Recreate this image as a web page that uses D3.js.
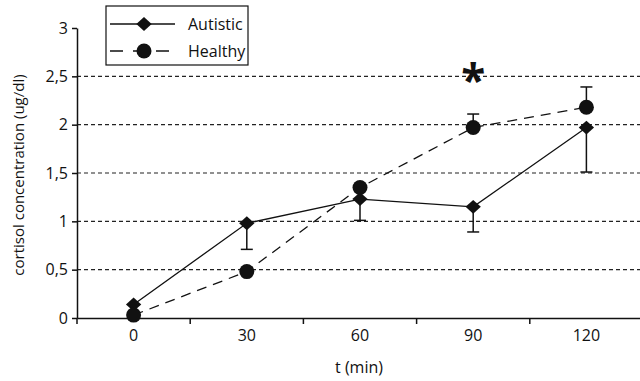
<!DOCTYPE html>
<html>
<head>
<meta charset="utf-8">
<script src="https://cdn.jsdelivr.net/npm/d3@7"></script>
<style>
  body { margin: 0; background: #fff; }
  text { font-family: "Open Sans", sans-serif; fill: #111; }
</style>
</head>
<body>
<svg id="chart" width="640" height="381"></svg>
<script>
const times = ["0", "30", "60", "90", "120"];
const autistic = [0.14, 0.98, 1.23, 1.15, 1.97];
const autisticLow = [null, 0.71, 1.01, 0.89, 1.51];
const healthy = [0.03, 0.48, 1.35, 1.97, 2.18];
const healthyHigh = [null, null, null, 2.11, 2.39];
const yTicks = [0, 0.5, 1, 1.5, 2, 2.5, 3];
const seriesNames = ["Autistic", "Healthy"];

const margin = {top: 28, right: -3, bottom: 63, left: 77};
const width = 640 - margin.left - margin.right;
const height = 381 - margin.top - margin.bottom;

const svg = d3.select("#chart");
const g = svg.append("g").attr("transform", "translate(" + margin.left + "," + margin.top + ")");

const x = d3.scaleBand().domain(times).range([0, width]);
const y = d3.scaleLinear().domain([0, 3]).range([height, 0]);
const cx = d => x(d) + x.bandwidth() / 2;
const fmt = v => String(v).replace(".", ",");

// grid
g.selectAll(".grid").data(yTicks.filter(v => v > 0 && v < 3)).enter().append("line")
    .attr("x1", 0).attr("x2", width)
    .attr("y1", d => y(d)).attr("y2", d => y(d))
    .attr("stroke", "#222").attr("stroke-width", 1.2)
    .attr("stroke-dasharray", "4,3");

// y axis
const yAxis = g.append("g").call(d3.axisLeft(y).tickValues(yTicks).tickFormat(fmt).tickSize(5).tickSizeOuter(0));
yAxis.select(".domain").attr("stroke", "#111").attr("stroke-width", 1.5);
yAxis.selectAll(".tick line").attr("stroke", "#111").attr("stroke-width", 1.5);
yAxis.selectAll("text").attr("font-size", 16).attr("font-family", "Open Sans").attr("fill", "#111").attr("dx", -1);

// x axis
const xAxis = g.append("g").attr("transform", "translate(0," + height + ")")
    .call(d3.axisBottom(x).tickSize(0).tickSizeOuter(0));
xAxis.select(".domain").attr("stroke", "#111").attr("stroke-width", 1.5);
xAxis.selectAll("text").attr("font-size", 16).attr("font-family", "Open Sans").attr("fill", "#111").attr("dy", "1.25em");
g.selectAll(".xtick").data(times).enter().append("line")
    .attr("x1", d => x(d)).attr("x2", d => x(d))
    .attr("y1", height).attr("y2", height + 6)
    .attr("stroke", "#111").attr("stroke-width", 1.5);

// axis titles
svg.append("text").attr("x", margin.left + width / 2 - 1).attr("y", 373)
    .attr("text-anchor", "middle").attr("font-size", 16).text("t (min)");
svg.append("text").attr("transform", "translate(24," + (margin.top + height / 2 + 2) + ") rotate(-90)")
    .attr("text-anchor", "middle").attr("font-size", 15).text("cortisol concentration (ug/dl)");

// error bars
function errBars(vals, ends) {
  const d = times.map((t, i) => ({t, v: vals[i], e: ends[i]})).filter(d => d.e !== null);
  g.selectAll(null).data(d).enter().append("line")
      .attr("x1", d => cx(d.t)).attr("x2", d => cx(d.t))
      .attr("y1", d => y(d.v)).attr("y2", d => y(d.e))
      .attr("stroke", "#111").attr("stroke-width", 1.5);
  g.selectAll(null).data(d).enter().append("line")
      .attr("x1", d => cx(d.t) - 6).attr("x2", d => cx(d.t) + 6)
      .attr("y1", d => y(d.e)).attr("y2", d => y(d.e))
      .attr("stroke", "#111").attr("stroke-width", 1.5);
}
errBars(autistic, autisticLow);
errBars(healthy, healthyHigh);

// lines
const line = d3.line().x((d, i) => cx(times[i])).y(d => y(d));
g.append("path").datum(autistic).attr("d", line)
    .attr("fill", "none").attr("stroke", "#111").attr("stroke-width", 1.3);
g.append("path").datum(healthy).attr("d", line)
    .attr("fill", "none").attr("stroke", "#111").attr("stroke-width", 1.3)
    .attr("stroke-dasharray", "10,7");

// markers
const diamond = d3.symbol().type(d3.symbolDiamond2).size(150);
g.selectAll(".dia").data(autistic).enter().append("path")
    .attr("d", diamond)
    .attr("transform", (d, i) => "translate(" + cx(times[i]) + "," + y(d) + ") scale(1,0.9)")
    .attr("fill", "#111");
g.selectAll(".dot").data(healthy).enter().append("circle")
    .attr("cx", (d, i) => cx(times[i])).attr("cy", d => y(d)).attr("r", 7.5)
    .attr("fill", "#111");

// significance mark
svg.append("text").attr("x", margin.left + cx("90")).attr("y", 96)
    .attr("text-anchor", "middle").attr("font-size", 44).attr("font-weight", "bold")
    .attr("font-family", "DejaVu Sans")
    .text("*");

// legend
const lg = svg.append("g").attr("transform", "translate(106,6)");
lg.append("rect").attr("width", 142).attr("height", 59)
    .attr("fill", "#fff").attr("stroke", "#111").attr("stroke-width", 1.2);
seriesNames.forEach((name, i) => {
  const ly = 18 + i * 27;
  lg.append("line").attr("x1", 4).attr("x2", 69).attr("y1", ly).attr("y2", ly)
      .attr("stroke", "#111").attr("stroke-width", 1.3)
      .attr("stroke-dasharray", i === 0 ? null : "13,10");
  if (i === 0) {
    lg.append("path").attr("d", diamond).attr("transform", "translate(38," + ly + ") scale(1,0.9)").attr("fill", "#111");
  } else {
    lg.append("circle").attr("cx", 38).attr("cy", ly).attr("r", 7.5).attr("fill", "#111");
  }
  lg.append("text").attr("x", 82).attr("y", ly + 6).attr("font-size", 16).text(name);
});
</script>
</body>
</html>
